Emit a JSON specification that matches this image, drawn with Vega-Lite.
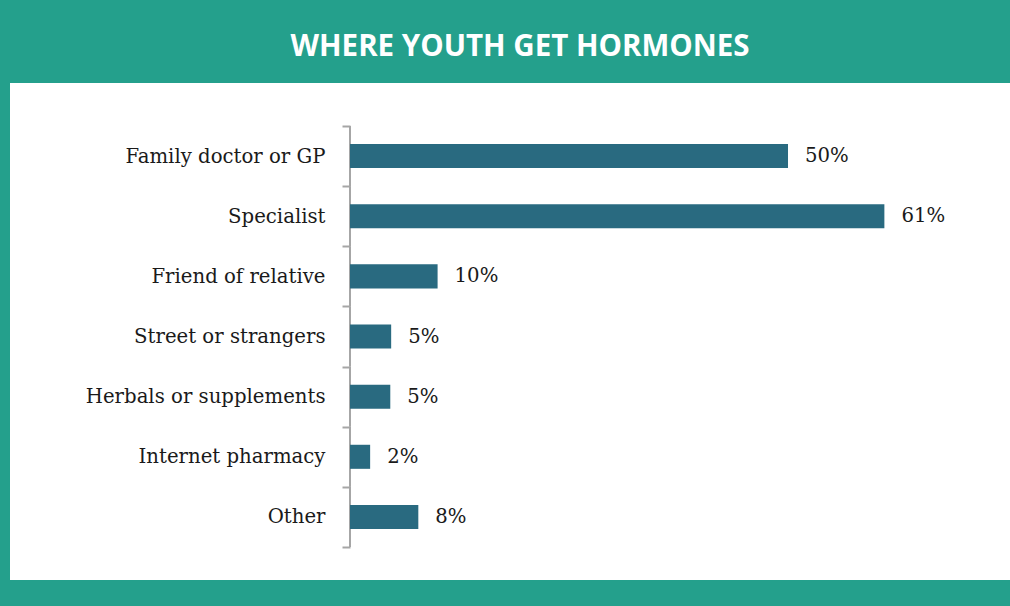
{
  "$schema": "https://vega.github.io/schema/vega-lite/v6.json",
  "width": 1000,
  "height": 497,
  "autosize": {"type": "none"},
  "padding": {"left": 10, "top": 83, "right": 0, "bottom": 26},
  "background": "#24a08c",
  "view": {"fill": "white", "stroke": null},
  "title": {
    "text": "WHERE YOUTH GET HORMONES",
    "font": "Open Sans",
    "fontSize": 29.5,
    "fontWeight": "bold",
    "color": "white",
    "anchor": "middle",
    "offset": 11,
    "dx": 10
  },
  "data": {
    "values": [
      {"source": "Family doctor or GP", "pct": 50, "label": "50%"},
      {"source": "Specialist", "pct": 61, "label": "61%"},
      {"source": "Friend of relative", "pct": 10, "label": "10%"},
      {"source": "Street or strangers", "pct": 4.7, "label": "5%"},
      {"source": "Herbals or supplements", "pct": 4.6, "label": "5%"},
      {"source": "Internet pharmacy", "pct": 2.3, "label": "2%"},
      {"source": "Other", "pct": 7.8, "label": "8%"}
    ]
  },
  "layer": [
    {
      "mark": {"type": "rule", "color": "#a6a6a6", "strokeWidth": 2},
      "encoding": {
        "x": {"datum": 0, "type": "quantitative", "scale": {"domain": [-38.81, 75.34], "nice": false, "zero": false}, "axis": null},
        "y": {
          "field": "source", "type": "nominal", "sort": null, "bandPosition": 0,
          "scale": {"type": "band", "paddingInner": 0, "paddingOuter": 0.632, "align": 0.566},
          "axis": {"title": null, "offset": -340, "domain": false, "tickBand": "extent", "tickSize": 8, "tickWidth": 2, "tickColor": "#a6a6a6", "labelPadding": 17, "labelFont": "DejaVu Serif", "labelFontSize": 19.7, "labelColor": "#1a1a1a", "labelLimit": 400}
        },
        "y2": {"field": "source", "bandPosition": 1}
      }
    },
    {
      "mark": {"type": "bar", "color": "#296a80", "height": {"band": 0.4}},
      "encoding": {
        "x": {"field": "pct", "type": "quantitative", "axis": null},
        "x2": {"datum": 0},
        "y": {
          "field": "source", "type": "nominal", "sort": null,
          "axis": {"title": null, "offset": -340, "domain": false, "tickBand": "extent", "tickSize": 8, "tickWidth": 2, "tickColor": "#a6a6a6", "labelPadding": 17, "labelFont": "DejaVu Serif", "labelFontSize": 19.7, "labelColor": "#1a1a1a", "labelLimit": 400}
        }
      }
    },
    {
      "mark": {"type": "text", "align": "left", "baseline": "middle", "dx": 17, "font": "DejaVu Serif", "fontSize": 19.7, "color": "#1a1a1a"},
      "encoding": {
        "x": {"field": "pct", "type": "quantitative", "axis": null},
        "y": {
          "field": "source", "type": "nominal", "sort": null,
          "axis": {"title": null, "offset": -340, "domain": false, "tickBand": "extent", "tickSize": 8, "tickWidth": 2, "tickColor": "#a6a6a6", "labelPadding": 17, "labelFont": "DejaVu Serif", "labelFontSize": 19.7, "labelColor": "#1a1a1a", "labelLimit": 400}
        },
        "text": {"field": "label"}
      }
    }
  ]
}
